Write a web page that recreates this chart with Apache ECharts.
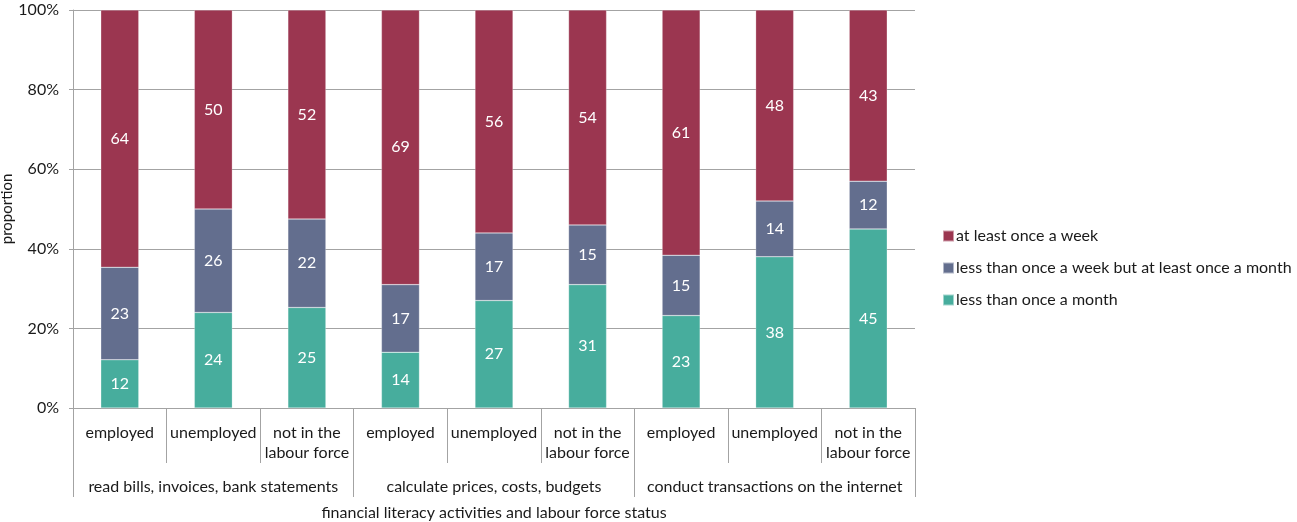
<!DOCTYPE html>
<html><head><meta charset="utf-8">
<script src="https://cdn.jsdelivr.net/npm/echarts@6/dist/echarts.min.js"></script>
<style>html,body{margin:0;padding:0;background:#fff}#c{width:1297px;height:522px}</style>
</head><body><div id="c"></div>
<script>
const subCategories = ['employed','unemployed','not in the\nlabour force','employed','unemployed','not in the\nlabour force','employed','unemployed','not in the\nlabour force'];
const groups = ['read bills, invoices, bank statements','calculate prices, costs, budgets','conduct transactions on the internet'];
const lessThanMonth = [12,24,25,14,27,31,23,38,45];
const weekButMonth = [23,26,22,17,17,15,15,14,12];
const atLeastWeek = [64,50,52,69,56,54,61,48,43];
const seriesNames = ['less than once a month','less than once a week but at least once a month','at least once a week'];
const colors = ['#47ad9d','#636e8e','#9b3650'];
const yTicks = [0,20,40,60,80,100];

const raw = [lessThanMonth, weekButMonth, atLeastWeek];
const totals = subCategories.map((_, i) => raw.reduce((s, a) => s + a[i], 0));
const font = 'Lato, "Open Sans", sans-serif';
const gray = '#a3a3a3';
const txt = '#1a1a1a';

const chart = echarts.init(document.getElementById('c'));
chart.setOption({
  animation: false,
  textStyle: {fontFamily: font},
  grid: {left: 73, right: 382, top: 10, bottom: 114, containLabel: false, outerBoundsMode: 'none'},
  legend: {
    orient: 'vertical', left: 937, top: 223,
    itemWidth: 11, itemHeight: 11, itemGap: 16, icon: 'rect',
    data: [seriesNames[2], seriesNames[1], seriesNames[0]],
    textStyle: {fontFamily: font, fontSize: 16, color: txt, lineHeight: 14, padding: [0,0,0,-3]}
  },
  xAxis: [{
    type: 'category', data: subCategories, gridIndex: 0, position: 'bottom',
    axisLine: {show: true, lineStyle: {color: gray}},
    axisTick: {show: true, length: 55, lineStyle: {color: gray}, alignWithLabel: false, interval: 0},
    axisLabel: {interval: 0, margin: 15, fontSize: 16, lineHeight: 20, color: txt, fontFamily: font}
  }, {
    type: 'category', data: groups, gridIndex: 0, position: 'bottom', offset: 55,
    axisLine: {show: false},
    axisTick: {show: true, length: 34, lineStyle: {color: gray}, interval: 0},
    axisLabel: {interval: 0, margin: 14, fontSize: 16, lineHeight: 20, color: txt, fontFamily: font},
    name: 'financial literacy activities and labour force status',
    nameLocation: 'middle', nameGap: 42, nameMoveOverlap: false,
    nameTextStyle: {fontSize: 16, color: txt, fontFamily: font}
  }],
  yAxis: {
    type: 'value', min: 0, max: 100, interval: 20,
    name: 'proportion', nameLocation: 'middle', nameGap: 58, nameMoveOverlap: false,
    nameTextStyle: {fontSize: 15, color: txt, fontFamily: font},
    axisLine: {show: true, lineStyle: {color: gray}},
    axisTick: {show: true, length: 4, lineStyle: {color: gray}},
    axisLabel: {formatter: v => yTicks.includes(v) ? v + '%' : '', fontSize: 16, color: txt, margin: 14, fontFamily: font},
    splitLine: {lineStyle: {color: gray}}
  },
  series: raw.map((arr, k) => ({
    name: seriesNames[k], type: 'bar', stack: 'total', barWidth: 38,
    xAxisIndex: 0,
    itemStyle: {color: colors[k], borderColor: 'rgba(255,255,255,0.5)', borderWidth: 0.5},
    label: {show: true, position: 'inside', color: '#fff', fontSize: 16, fontFamily: font,
      formatter: p => String(arr[p.dataIndex])},
    data: arr.map((v, i) => v / totals[i] * 100)
  }))
});
</script></body></html>
